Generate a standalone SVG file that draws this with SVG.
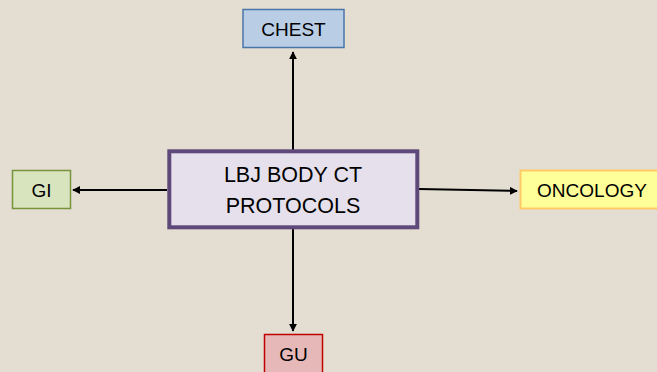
<svg xmlns="http://www.w3.org/2000/svg" width="657" height="372" viewBox="0 0 657 372">
<defs>
<marker id="ah" viewBox="0 0 10 10" refX="9" refY="5" markerWidth="4" markerHeight="4" orient="auto" markerUnits="strokeWidth">
<path d="M0,0 L10,5 L0,10 Z" fill="#000"/>
</marker>
<style>
text{font-family:"Liberation Sans",Arial,sans-serif;fill:#000;text-anchor:middle}
.s{font-size:19px}
.m{font-size:21.5px}
.c{stroke:#000;stroke-width:2;fill:none;marker-end:url(#ah)}
</style>
</defs>
<rect width="657" height="372" fill="#E4DDD1"/>
<g id="connectors">
<line class="c" x1="293" y1="150" x2="293" y2="52"/>
<line class="c" x1="293" y1="229" x2="293" y2="331"/>
<line class="c" x1="167" y1="190" x2="73" y2="190"/>
<line class="c" x1="419" y1="189" x2="517" y2="191"/>
</g>
<g id="main">
<rect x="169.3" y="151.3" width="248" height="76" fill="#E5E0EC" stroke="#5F497A" stroke-width="4"/>
<text class="m" x="293" y="181.5">LBJ BODY CT</text>
<text class="m" x="293" y="213">PROTOCOLS</text>
</g>
<g id="chest">
<rect x="243" y="9.5" width="101" height="38" fill="#B9CDE5" stroke="#4A76A8" stroke-width="1.5"/>
<text class="s" x="293.5" y="35.5">CHEST</text>
</g>
<g id="gi">
<rect x="12.5" y="170.5" width="58" height="38" fill="#D7E4BD" stroke="#77933C" stroke-width="1.5"/>
<text class="s" x="41.5" y="196.5">GI</text>
</g>
<g id="oncology">
<rect x="520.5" y="170.5" width="150" height="38" fill="#FFFF99" stroke="#FFC966" stroke-width="2"/>
<text class="s" x="592" y="196.5">ONCOLOGY</text>
</g>
<g id="gu">
<rect x="264.5" y="334.5" width="58" height="45" fill="#E6B9B8" stroke="#C00000" stroke-width="1.5"/>
<text class="s" x="293.5" y="361">GU</text>
</g>
</svg>
